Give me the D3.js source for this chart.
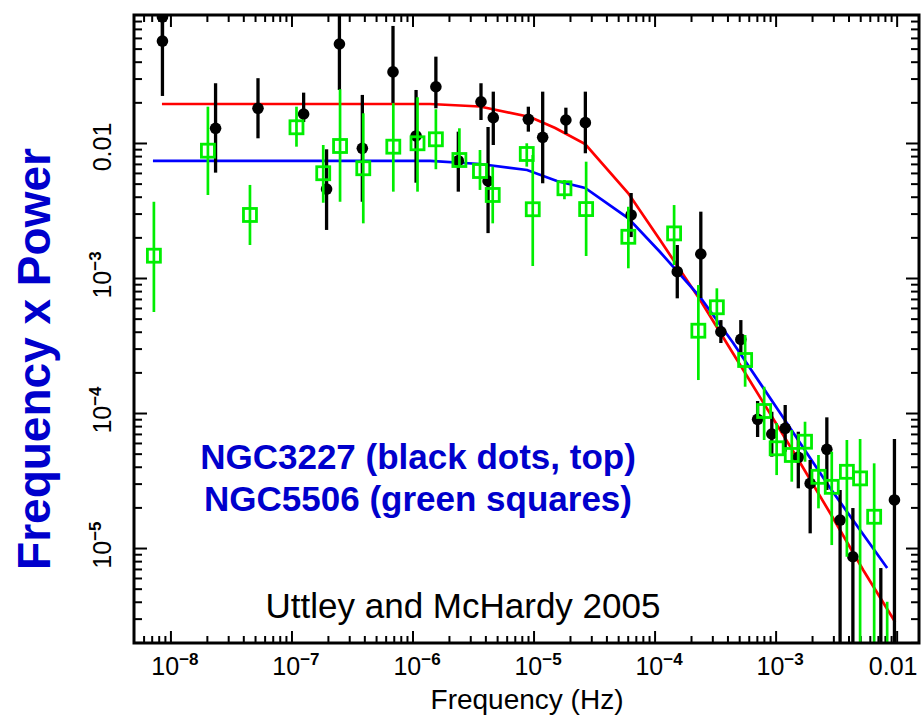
<!DOCTYPE html>
<html lang="en">
<head>
<meta charset="UTF-8">
<title>Frequency x Power - NGC3227 / NGC5506</title>
<script src="https://d3js.org/d3.v7.min.js"></script>
<style>
  body { margin: 0; background: #fff; overflow: hidden; }
  svg { display: block; font-family: "Liberation Sans", Arial, Helvetica, sans-serif; }
  .tick line { stroke: #000; stroke-width: 2px; }
</style>
</head>
<body>
<div id="chart"></div>
<script>
// NGC3227 (black dots): frequency (Hz), frequency x power, error bar low / high
const ngc3227Freq = [8.59e-9, 8.59e-9, 2.36e-8, 5.29e-8, 1.26e-7, 1.95e-7, 2.49e-7, 3.85e-7, 6.90e-7, 1.07e-6,
  1.56e-6, 2.39e-6, 3.68e-6, 4.65e-6, 4.21e-6, 9.06e-6, 1.19e-5, 1.85e-5, 2.68e-5, 6.40e-5,
  1.54e-4, 2.41e-4, 3.53e-4, 5.16e-4, 7.10e-4, 9.30e-4, 1.20e-3, 1.54e-3, 1.93e-3, 2.65e-3,
  3.41e-3, 4.35e-3, 7.40e-3, 9.59e-3];
const ngc3227Power = [0.0858, 0.0569, 0.01285, 0.01807, 0.0164, 0.00456, 0.0541, 0.00913, 0.0336, 0.01127,
  0.0261, 0.00739, 0.0202, 0.0154, 0.00523, 0.01498, 0.01102, 0.0148, 0.01414, 0.00293,
  0.001113, 0.001506, 4.00e-4, 3.51e-4, 8.98e-5, 6.99e-5, 7.70e-5, 4.70e-5, 3.01e-5, 5.38e-5,
  1.612e-5, 8.62e-6, 1.05e-6, 2.27e-5];
const ngc3227Lo = [0.0579, 0.0223, 0.00603, 0.01083, 0.0143, 0.00227, 0.0247, 0.00367, 0.0198, 0.00508,
  0.01807, 0.00436, 0.0148, 0.00966, 0.00215, 0.01213, 0.00503, 0.01166, 0.00839, 0.00201,
  7.07e-4, 7.11e-4, 3.30e-4, 2.69e-4, 6.64e-5, 4.75e-5, 5.17e-5, 2.77e-5, 1.285e-5, 2.69e-5,
  1e-6, 1e-6, 3e-7, 1e-6];
const ngc3227Hi = [0.161, 0.0872, 0.0277, 0.0302, 0.0236, 0.00898, 0.1146, 0.0227, 0.0736, 0.0247,
  0.0436, 0.01213, 0.0277, 0.0240, 0.01314, 0.01857, 0.0240, 0.01826, 0.0240, 0.00426,
  0.001755, 0.0031, 4.88e-4, 4.88e-4, 1.227e-4, 1.022e-4, 1.147e-4, 7.27e-5, 4.49e-5, 9.29e-5,
  2.69e-5, 1.978e-5, 7.11e-6, 6.42e-5];

// NGC5506 (green squares)
const ngc5506Freq = [7.30e-9, 2.04e-8, 4.54e-8, 1.10e-7, 1.83e-7, 2.52e-7, 3.92e-7, 6.94e-7, 1.10e-6, 1.56e-6,
  2.44e-6, 3.61e-6, 4.60e-6, 8.79e-6, 9.85e-6, 1.80e-5, 2.72e-5, 6.07e-5, 1.45e-4, 2.30e-4,
  3.27e-4, 5.60e-4, 8.04e-4, 1.02e-3, 1.36e-3, 1.75e-3, 2.26e-3, 2.91e-3, 3.88e-3, 4.99e-3,
  6.52e-3, 8.35e-3];
const ngc5506Power = [0.001463, 0.00877, 0.00293, 0.01307, 0.00597, 0.0095, 0.0065, 0.00939, 0.00995, 0.01065,
  0.00748, 0.0062, 0.00412, 0.00829, 0.00323, 0.00462, 0.00324, 0.00202, 0.00214, 4.07e-4,
  6.07e-4, 2.47e-4, 1.035e-4, 5.48e-5, 4.89e-5, 6.13e-5, 3.37e-5, 2.84e-5, 3.67e-5, 3.28e-5,
  1.705e-5, 1.0e-6];
const ngc5506Lo = [5.6e-4, 0.00412, 0.001755, 0.00939, 0.00361, 0.00367, 0.00254, 0.00436, 0.00436, 0.00639,
  0.00668, 0.00449, 0.00254, 0.00668, 0.001227, 0.00383, 0.001455, 0.00118, 0.001248, 1.755e-4,
  4.36e-4, 1.566e-4, 6.31e-5, 3.47e-5, 3.10e-5, 4.36e-5, 1.968e-5, 1.052e-5, 8.62e-6, 1e-6,
  1e-6, 3e-7];
const ngc5506Hi = [0.00367, 0.01857, 0.00489, 0.01857, 0.00966, 0.025, 0.0166, 0.0197, 0.0218, 0.01777,
  0.01285, 0.00887, 0.00668, 0.00995, 0.00815, 0.00532, 0.00727, 0.00337, 0.00347, 8.87e-4,
  8.39e-4, 3.78e-4, 1.566e-4, 8.43e-5, 7.48e-5, 8.62e-5, 4.89e-5, 5.17e-5, 6.31e-5, 6.42e-5,
  4.24e-5, 4.0e-6];

// bending power-law model curves
const redModelFreq = [8.51e-9, 1.40e-6, 3.61e-6, 9.36e-6, 1.51e-5, 2.67e-5, 6.04e-5, 1.11e-4, 2.38e-4, 5.60e-4,
  1.51e-3, 2.82e-3, 5.29e-3, 9.72e-3];
const redModelPower = [0.01945, 0.01945, 0.01864, 0.01558, 0.01292, 0.00983, 0.00426, 0.00191, 6.87e-4, 1.98e-4,
  4.64e-5, 1.816e-5, 6.87e-6, 2.83e-6];
const blueModelFreq = [7.17e-9, 1.40e-6, 3.61e-6, 8.84e-6, 1.56e-5, 2.67e-5, 6.04e-5, 1.11e-4, 2.38e-4, 4.46e-4,
  1.09e-3, 2.82e-3, 8.35e-3];
const blueModelPower = [0.00736, 0.00736, 0.00699, 0.00631, 0.00523, 0.00464, 0.00278, 0.001558, 7.23e-4, 3.30e-4,
  1.0e-4, 2.78e-5, 7.11e-6];

// axis ticks and labels
const xMajor = [1e-8, 1e-7, 1e-6, 1e-5, 1e-4, 1e-3, 1e-2];
const xLabels = [["10", "\u22128"], ["10", "\u22127"], ["10", "\u22126"], ["10", "\u22125"], ["10", "\u22124"], ["10", "\u22123"], ["0.01", ""]];
const yMajor = [1e-5, 1e-4, 1e-3, 1e-2];
const yLabels = [["10", "\u22125"], ["10", "\u22124"], ["10", "\u22123"], ["0.01", ""]];

const width = 924, height = 716;
const margin = { top: 15, right: 5, bottom: 73, left: 134 };
const x0 = margin.left, x1 = width - margin.right;
const y0 = margin.top, y1 = height - margin.bottom;

const svg = d3.select("#chart").append("svg")
  .attr("width", width)
  .attr("height", height);

const x = d3.scaleLog().domain([5e-9, 0.0153]).range([x0, x1]);
const y = d3.scaleLog().domain([1.98e-6, 0.0887]).range([y1, y0]);

// minor ticks 2..9 in each decade
function minors(scale) {
  const [a, b] = scale.domain();
  const out = [];
  for (let e = Math.floor(Math.log10(a)); e <= Math.ceil(Math.log10(b)); e++) {
    for (let k = 2; k <= 9; k++) {
      const v = k * Math.pow(10, e);
      if (v > a && v < b) out.push(v);
    }
  }
  return out;
}
const xMinor = minors(x), yMinor = minors(y);

function addAxis(axis, tx, ty) {
  const g = svg.append("g").attr("transform", `translate(${tx},${ty})`).call(axis);
  g.select(".domain").remove();
  g.selectAll("text").remove();
}
addAxis(d3.axisBottom(x).tickValues(xMajor).tickSize(-12), 0, y1);
addAxis(d3.axisBottom(x).tickValues(xMinor).tickSize(-7), 0, y1);
addAxis(d3.axisTop(x).tickValues(xMajor).tickSize(-12), 0, y0);
addAxis(d3.axisTop(x).tickValues(xMinor).tickSize(-7), 0, y0);
addAxis(d3.axisLeft(y).tickValues(yMajor).tickSize(-13), x0, 0);
addAxis(d3.axisLeft(y).tickValues(yMinor).tickSize(-8), x0, 0);
addAxis(d3.axisRight(y).tickValues(yMajor).tickSize(-13), x1, 0);
addAxis(d3.axisRight(y).tickValues(yMinor).tickSize(-8), x1, 0);

// tick labels
xMajor.forEach((v, i) => {
  const t = svg.append("text")
    .attr("x", x(v) + (xLabels[i][1] ? 4.5 : -3.5))
    .attr("y", 675)
    .attr("text-anchor", "middle")
    .style("font-size", "25px");
  t.append("tspan").text(xLabels[i][0]);
  if (xLabels[i][1]) t.append("tspan").attr("dy", -10).style("font-size", "17px").style("font-weight", "bold").text(xLabels[i][1]);
});
yMajor.forEach((v, i) => {
  const t = svg.append("text")
    .attr("transform", `translate(111,${y(v)}) rotate(-90)`)
    .attr("x", yLabels[i][1] ? 3 : -4)
    .attr("text-anchor", "middle")
    .style("font-size", "25px");
  t.append("tspan").text(yLabels[i][0]);
  if (yLabels[i][1]) t.append("tspan").attr("dy", -10).style("font-size", "17px").style("font-weight", "bold").text(yLabels[i][1]);
});

// plot contents, clipped to the frame
svg.append("clipPath").attr("id", "plotClip")
  .append("rect").attr("x", x0).attr("y", y0).attr("width", x1 - x0).attr("height", y1 - y0);
const plot = svg.append("g").attr("clip-path", "url(#plotClip)");

const line = d3.line().x(d => x(d[0])).y(d => y(d[1]));
plot.append("path")
  .datum(redModelFreq.map((f, i) => [f, redModelPower[i]]))
  .attr("d", line).attr("fill", "none").attr("stroke", "#ff0000").attr("stroke-width", 2.7);
plot.append("path")
  .datum(blueModelFreq.map((f, i) => [f, blueModelPower[i]]))
  .attr("d", line).attr("fill", "none").attr("stroke", "#0000ff").attr("stroke-width", 2.7);

// NGC3227 black dots
const black = ngc3227Freq.map((f, i) => ({ f, p: ngc3227Power[i], lo: ngc3227Lo[i], hi: ngc3227Hi[i] }));
plot.selectAll(".bErr").data(black).enter().append("line")
  .attr("x1", d => x(d.f)).attr("x2", d => x(d.f))
  .attr("y1", d => y(d.lo)).attr("y2", d => y(d.hi))
  .attr("stroke", "#000").attr("stroke-width", 3.3);
plot.selectAll(".bDot").data(black).enter().append("circle")
  .attr("cx", d => x(d.f)).attr("cy", d => y(d.p)).attr("r", 5.8)
  .attr("fill", "#000");

// NGC5506 green squares
const green = ngc5506Freq.map((f, i) => ({ f, p: ngc5506Power[i], lo: ngc5506Lo[i], hi: ngc5506Hi[i] }));
plot.selectAll(".gErr").data(green).enter().append("line")
  .attr("x1", d => x(d.f)).attr("x2", d => x(d.f))
  .attr("y1", d => y(d.lo)).attr("y2", d => y(d.hi))
  .attr("stroke", "#00ee00").attr("stroke-width", 2.7);
plot.selectAll(".gSq").data(green).enter().append("rect")
  .attr("x", d => x(d.f) - 6.5).attr("y", d => y(d.p) - 6.5)
  .attr("width", 13).attr("height", 13)
  .attr("fill", "none").attr("stroke", "#00ee00").attr("stroke-width", 2.8);

// frame
svg.append("rect")
  .attr("x", x0).attr("y", y0).attr("width", x1 - x0).attr("height", y1 - y0)
  .attr("fill", "none").attr("stroke", "#000").attr("stroke-width", 3);

// titles and notes
svg.append("text")
  .attr("transform", "translate(50,359) rotate(-90)")
  .attr("text-anchor", "middle")
  .style("font-size", "46px").style("font-weight", "bold").style("fill", "#0000cc")
  .text("Frequency x Power");

svg.append("text")
  .attr("x", 527).attr("y", 709)
  .attr("text-anchor", "middle")
  .style("font-size", "28px")
  .text("Frequency (Hz)");

svg.append("text")
  .attr("x", 418).attr("y", 469)
  .attr("text-anchor", "middle")
  .style("font-size", "35px").style("font-weight", "bold").style("fill", "#0000cc")
  .text("NGC3227 (black dots, top)");
svg.append("text")
  .attr("x", 418).attr("y", 511)
  .attr("text-anchor", "middle")
  .style("font-size", "35px").style("font-weight", "bold").style("fill", "#0000cc")
  .text("NGC5506 (green squares)");

svg.append("text")
  .attr("x", 463).attr("y", 618)
  .attr("text-anchor", "middle")
  .style("font-size", "35px")
  .text("Uttley and McHardy 2005");
</script>
</body>
</html>
